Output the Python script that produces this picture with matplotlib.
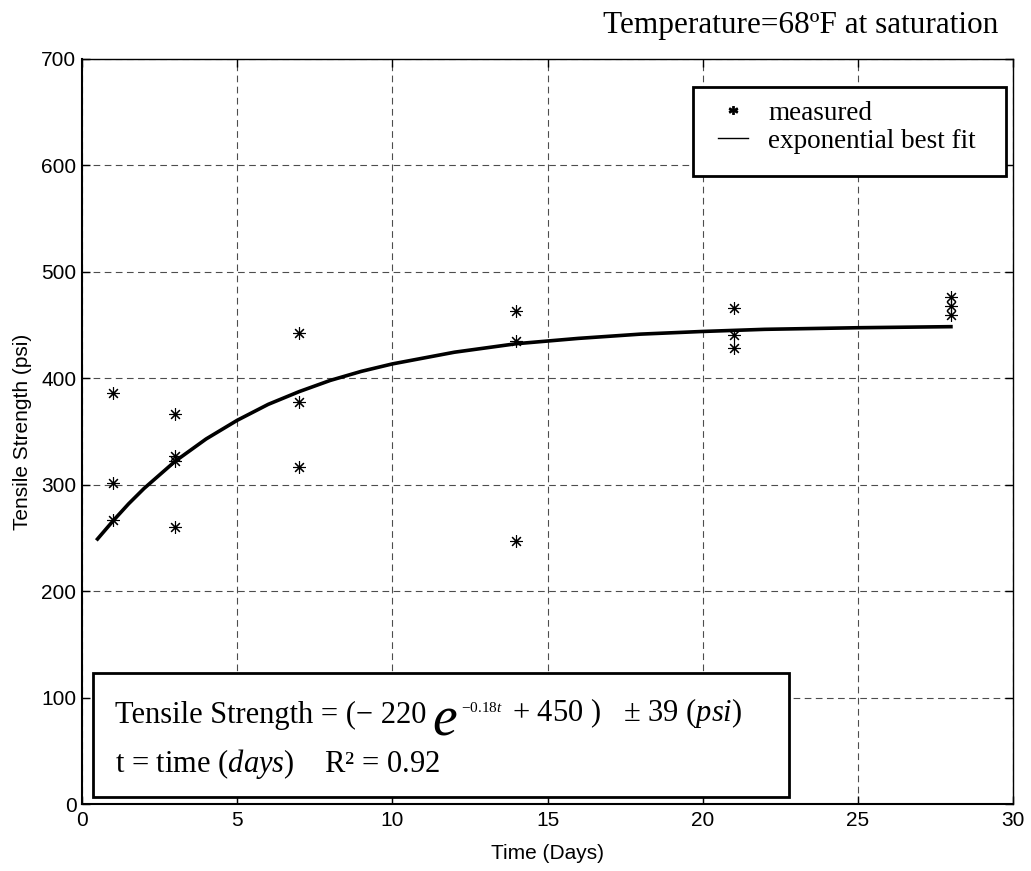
import matplotlib
matplotlib.use('Agg')
import matplotlib.pyplot as plt
from matplotlib import font_manager
from matplotlib.lines import Line2D
from matplotlib.patches import Rectangle

# measured tensile strength (psi) vs curing time (days)
days = [1, 1, 1, 3, 3, 3, 3, 7, 7, 7, 14, 14, 14, 21, 21, 21, 28, 28, 28]
strength = [386, 302, 267, 366, 327, 322, 260, 443, 378, 317,
            463, 435, 247, 466, 441, 428, 476, 468, 459]

# exponential best fit curve
fit_days = [0.5, 1, 1.5, 2, 3, 4, 5, 6, 7, 8, 9, 10, 12, 14, 16, 18, 20, 22, 25, 28]
fit_strength = [249, 266, 282, 296.5, 322, 343, 360.5, 375.5, 387.5, 398, 406.5,
                413.5, 424.5, 432.5, 437.5, 441.5, 444, 446, 447.5, 448.5]

x_ticks = [0, 5, 10, 15, 20, 25, 30]
y_ticks = [0, 100, 200, 300, 400, 500, 600, 700]

plt.rcParams['mathtext.fontset'] = 'custom'
plt.rcParams['mathtext.rm'] = 'Liberation Serif'
plt.rcParams['mathtext.it'] = 'Liberation Serif:italic'

names = {f.name for f in font_manager.fontManager.ttflist}
if 'Liberation Sans Narrow' in names:
    sans, sans_size = 'Liberation Sans Narrow', 17
else:
    sans, sans_size = 'Liberation Sans', 15
serif = 'Liberation Serif'

fig = plt.figure(figsize=(10.31, 8.71), dpi=100)
ax = fig.add_axes([82 / 1031, 67 / 871, 931 / 1031, 745 / 871])

ax.plot(fit_days, fit_strength, color='black', lw=2.6, zorder=3)
ax.plot(days, strength, ls='none', marker=(8, 2, 0), ms=9, mew=0.8,
        color='black', zorder=4)

ax.set_xlim(0, 30)
ax.set_ylim(0, 700)
ax.set_xticks(x_ticks)
ax.set_yticks(y_ticks)
ax.tick_params(direction='in', length=6, width=1, top=True, right=True,
               labelsize=sans_size)
ax.tick_params(axis='x', pad=5)
ax.tick_params(axis='y', pad=4)
for lab in ax.get_xticklabels() + ax.get_yticklabels():
    lab.set_family(sans)

ax.grid(True, ls=(0, (6, 4)), lw=0.8, color='0.3')
ax.set_axisbelow(True)
for s in ['left', 'bottom']:
    ax.spines[s].set_linewidth(1.5)
for s in ['top', 'right']:
    ax.spines[s].set_linewidth(1.0)

ax.set_xlabel('Time (Days)', family=sans, size=sans_size, va='center')
ax.xaxis.set_label_coords(0.5, -49 / 745)
ax.set_ylabel('Tensile Strength (psi)', family=sans, size=sans_size, va='center')
ax.yaxis.set_label_coords(-59 / 931, 0.5)

fig.text(998 / 1031, 1 - 33 / 871, 'Temperature=68ºF at saturation',
         ha='right', va='baseline', family=serif, size=22.5)

# legend
ax.add_patch(Rectangle((0.656, 0.843), 0.3365, 0.119, transform=ax.transAxes,
                       facecolor='white', edgecolor='black', lw=2, zorder=5))
handles = [Line2D([], [], ls='none', marker='$*$', ms=6, color='black'),
           Line2D([], [], color='black', lw=1)]
leg = ax.legend(handles, ['measured', 'exponential best fit'], loc='upper left',
                bbox_to_anchor=(0.683, 0.944), borderaxespad=0, borderpad=0,
                frameon=False, prop={'family': serif, 'size': 19.5},
                handlelength=1.1, handletextpad=0.75, labelspacing=0.12)
leg.set_zorder(6)

# equation box
ax.add_patch(Rectangle((0.0118, 0.0094), 0.748, 0.1666, transform=ax.transAxes,
                       facecolor='white', edgecolor='black', lw=2, zorder=5))
eq_size = 22
t1 = ax.text(0.0354, 0.1087, 'Tensile Strength = (− 220', transform=ax.transAxes,
             family=serif, size=eq_size, va='baseline', zorder=6)
t2 = ax.annotate('e', xy=(1, 0), xycoords=t1, xytext=(4, -4),
                 textcoords='offset points', family=serif, style='italic',
                 size=40, va='baseline', zorder=6)
t3 = ax.annotate('−0.18$t$', xy=(1, 1), xycoords=t2, xytext=(3, -4),
                 textcoords='offset points', family=serif, size=11,
                 va='top', zorder=6)
t4 = ax.annotate('+ 450 )   ± 39 ($psi$)', xy=(1, 0), xycoords=(t3, t1),
                 xytext=(7, 0), textcoords='offset points', family=serif,
                 size=eq_size, va='bottom', zorder=6)
ax.text(0.0354, 0.043, 't = time ($days$)    R² = 0.92', transform=ax.transAxes,
        family=serif, size=eq_size, va='baseline', zorder=6)

fig.savefig('out.png', dpi=100)
